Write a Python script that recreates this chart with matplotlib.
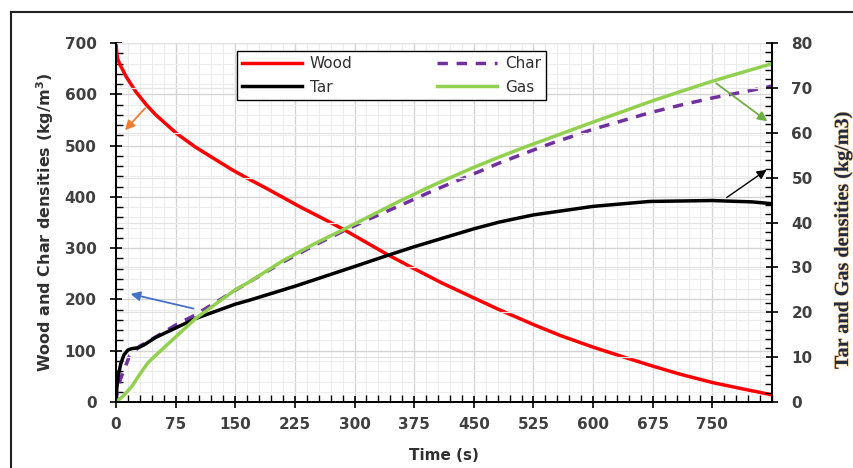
import matplotlib
matplotlib.use('Agg')
import matplotlib.pyplot as plt
import matplotlib.patheffects as pe
from matplotlib.ticker import MultipleLocator
from matplotlib.lines import Line2D

# Wood (left axis, kg/m3)
t_wood = [0, 1, 2, 5, 13, 25, 38, 50, 76, 100, 125, 147, 168, 190, 231, 260, 288, 315,
          342, 375, 410, 450, 482, 525, 560, 600, 640, 675, 710, 750, 790, 825]
wood = [700, 680, 670, 658, 634, 605, 580, 560, 524, 497, 473, 452, 434, 416, 381, 358, 335, 311,
        287, 260, 232, 203, 180, 151, 129, 107, 87, 70, 54, 38, 25, 14]

# Char (left axis, kg/m3)
t_char = [0, 2, 5, 10, 17, 29, 50, 75, 100, 150, 210, 250, 288, 320, 357, 400, 450, 482, 514,
          545, 600, 640, 671, 710, 750, 790, 825]
char = [0, 25, 42, 62, 90, 108, 127, 150, 170, 218, 273, 306, 335, 358, 383, 413, 445, 466, 485,
        503, 532, 550, 564, 579, 593, 605, 616]

# Tar (right axis, kg/m3)
t_tar = [0, 1, 3, 6, 10, 15, 20, 28, 35, 50, 75, 100, 150, 168, 225, 300, 342, 375, 450, 482,
         525, 600, 671, 750, 800, 825]
tar = [0, 3, 6, 8.5, 10.5, 11.6, 11.9, 12.1, 12.7, 14.4, 16.5, 18.6, 21.8, 22.7, 25.8, 30.2,
       32.7, 34.6, 38.6, 40.1, 41.7, 43.6, 44.7, 44.9, 44.6, 44.2]

# Gas (right axis, kg/m3)
t_gas = [0, 10, 20, 30, 40, 50, 75, 100, 150, 168, 210, 250, 288, 357, 400, 450, 482, 514,
         545, 600, 640, 671, 710, 750, 790, 825]
gas = [0, 1.5, 3.5, 6.2, 8.7, 10.4, 14.5, 18.6, 25, 26.8, 31.5, 35.3, 38.6, 44.8, 48.4, 52.3,
       54.6, 56.8, 58.8, 62.4, 64.9, 66.9, 69.2, 71.5, 73.6, 75.4]

x_ticks = [0, 75, 150, 225, 300, 375, 450, 525, 600, 675, 750]

tick_color = '#404040'

fig = plt.figure(figsize=(8.54, 4.68), dpi=100)
ax = fig.add_axes([0.1358, 0.141, 0.7682, 0.767])
ax2 = ax.twinx()

# outer frame (only top and left are visible in the crop)
fig.add_artist(Line2D([0.0129, 1.0], [0.974, 0.974], color='#202020', lw=1.5, transform=fig.transFigure))
fig.add_artist(Line2D([0.0129, 0.0129], [0.0, 0.974], color='#202020', lw=1.5, transform=fig.transFigure))

l_wood, = ax.plot(t_wood, wood, color='#FF0000', lw=2.5, label='Wood')
l_char, = ax.plot(t_char, char, color='#7030A0', lw=2.5, ls=(0, (3, 2.5)), label='Char')
l_tar, = ax2.plot(t_tar, tar, color='black', lw=2.5, label='Tar')
l_gas, = ax2.plot(t_gas, gas, color='#92D050', lw=2.5, label='Gas')

ax.set_xlim(0, 825)
ax.set_ylim(0, 700)
ax2.set_ylim(0, 80)

ax.set_xticks(x_ticks)
ax.xaxis.set_minor_locator(MultipleLocator(15))
ax.yaxis.set_major_locator(MultipleLocator(100))
ax.yaxis.set_minor_locator(MultipleLocator(20))
ax2.yaxis.set_major_locator(MultipleLocator(10))
ax2.yaxis.set_minor_locator(MultipleLocator(2))

ax.grid(True, which='major', color='#d4d4d4', lw=1.0)
ax.grid(True, which='minor', color='#ededed', lw=0.8)
ax2.grid(True, which='major', axis='y', color='#e4e4e4', lw=0.9)
ax.set_axisbelow(True)
ax2.set_axisbelow(True)

for a in (ax, ax2):
    a.spines['top'].set_visible(False)
    for s in ('left', 'right', 'bottom'):
        a.spines[s].set_color('black')
        a.spines[s].set_linewidth(1.3)
    a.tick_params(which='major', direction='inout', length=8, width=1.2, color='black')
    a.tick_params(which='minor', direction='in', length=5, width=1.0, color='black')

ax.tick_params(axis='x', which='major', labelsize=11, labelcolor=tick_color, pad=7)
ax.tick_params(axis='y', which='major', labelsize=11, labelcolor=tick_color, pad=10)
ax2.tick_params(axis='y', which='major', labelsize=11, labelcolor=tick_color, pad=10)
for lab in ax.get_xticklabels() + ax.get_yticklabels() + ax2.get_yticklabels():
    lab.set_fontweight('bold')

ax.set_xlabel('Time (s)', fontsize=11, fontweight='bold', color='#303030', labelpad=11)
ax.set_ylabel('Wood and Char densities (kg/m$^\\mathbf{3}$)', fontsize=11.5, fontweight='bold',
              color='#303030', labelpad=6)
ax2.set_ylabel('Tar and Gas densities (kg/m3)', fontsize=14.5, fontweight='bold',
               family='Liberation Serif', color='#1F2A44',
               path_effects=[pe.withStroke(linewidth=0.9, foreground='#F5C88A')])
ax2.yaxis.set_label_coords(1.093, 0.451)

# arrows pointing from curves to their axes
ax.annotate('', xy=(9, 526), xytext=(39, 577),
            arrowprops=dict(arrowstyle='-|>', color='#ED7D31', lw=1.3, mutation_scale=14))
ax.annotate('', xy=(15, 212), xytext=(101, 181),
            arrowprops=dict(arrowstyle='-|>', color='#4472C4', lw=1.3, mutation_scale=14))
ax2.annotate('', xy=(822, 62.2), xytext=(752, 71.4),
             arrowprops=dict(arrowstyle='-|>', color='#70AD47', lw=1.3, mutation_scale=14))
ax2.annotate('', xy=(821, 52.1), xytext=(765, 45.2),
             arrowprops=dict(arrowstyle='-|>', color='black', lw=1.0, mutation_scale=14))

leg = ax2.legend([l_wood, l_tar, l_char, l_gas], ['Wood', 'Tar', 'Char', 'Gas'],
                 ncol=2, loc='upper left', bbox_to_anchor=(0.1845, 0.5, 0.471, 0.478),
                 mode='expand', borderaxespad=0,
                 fontsize=11, frameon=True, fancybox=False, handlelength=3.9,
                 columnspacing=2.3, borderpad=0.35, labelspacing=0.55, handletextpad=0.5)
leg.get_frame().set_edgecolor('black')
leg.get_frame().set_linewidth(1.0)
leg.get_frame().set_alpha(1.0)
for txt in leg.get_texts():
    txt.set_color('#303030')

fig.savefig('out.png', dpi=100)
